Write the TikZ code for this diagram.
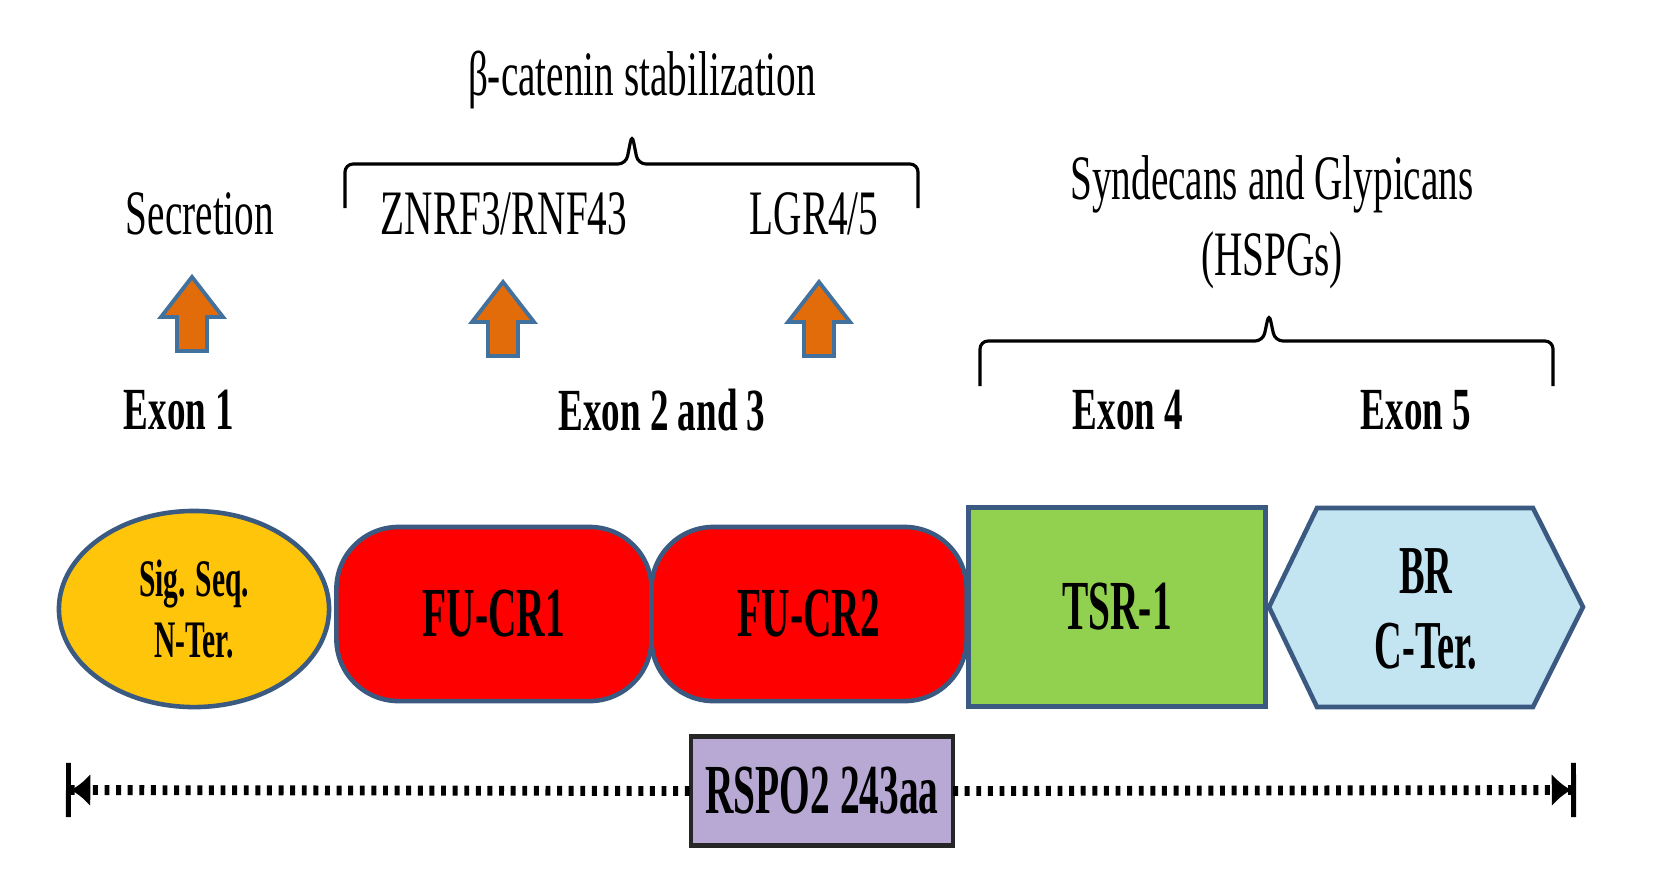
\documentclass[tikz,border=0pt]{standalone}
\usepackage{fontspec}
\setmainfont{Liberation Serif}
\newfontfamily\lblfont[FakeStretch=0.62]{Liberation Serif}
\newfontfamily\boxfont[FakeStretch=0.56]{Liberation Serif}
\usetikzlibrary{arrows.meta,shapes.geometric}
\definecolor{sigyellow}{HTML}{FFC50A}
\definecolor{fured}{HTML}{FF0000}
\definecolor{tsrgreen}{HTML}{92D050}
\definecolor{brblue}{HTML}{C3E5F1}
\definecolor{rspopurple}{HTML}{B8A9D4}
\definecolor{edgeblue}{HTML}{3A5A82}
\definecolor{arroworange}{HTML}{E36C0A}
\definecolor{arrowedge}{HTML}{41719C}
\tikzset{
  domainbox/.style={draw=edgeblue,line width=1.3pt,align=center,
    font=\boxfont\bfseries\fontsize{20}{22}\selectfont},
  toplabel/.style={align=center,font=\lblfont\fontsize{18}{21.6}\selectfont},
  exonlabel/.style={font=\lblfont\bfseries\fontsize{17}{20}\selectfont},
  bracket/.style={draw=black,line width=0.9pt,rounded corners=0.08cm},
  uparrow/.style={draw=arrowedge,fill=arroworange,line width=1.1pt,line join=miter},
  dotline/.style={line width=2.8pt,dash pattern=on 1.4pt off 1.9pt}
}
\begin{document}
\begin{tikzpicture}[x=0.01cm,y=-0.01cm,inner sep=0pt,outer sep=0pt,
sigseq/.style={domainbox,ellipse,fill=sigyellow,minimum width=2.70cm,minimum height=1.96cm,
  font=\boxfont\bfseries\fontsize{15}{17.5}\selectfont},
fucr/.style={domainbox,rectangle,rounded corners=0.62cm,fill=fured,minimum width=3.15cm,minimum height=1.74cm},
tsrbox/.style={domainbox,rectangle,fill=tsrgreen,minimum width=2.97cm,minimum height=1.99cm},
hexbox/.style={draw=edgeblue,line width=1.3pt,fill=brblue,line join=miter},
rspobox/.style={domainbox,draw=black!85,rectangle,fill=rspopurple,minimum width=2.62cm,minimum height=1.09cm}]
\fill[white] (0,0) rectangle (1679,893);
\useasboundingbox (0,0) rectangle (1679,893);
% domains
\draw (194,609) node[sigseq] (sig) {Sig. Seq.\\N-Ter.};
\draw (494,614) node[fucr] (cr1) {FU-CR1};
\draw (809,614) node[fucr] (cr2) {FU-CR2};
\draw (1117,607) node[tsrbox] (tsr) {TSR-1};
\draw[hexbox] (1269,607) -- (1317,508) -- (1533,508) -- (1583,607) -- (1533,707) -- (1317,707) -- cycle;
\draw (1426,609) node[domainbox,draw=none,font=\boxfont\bfseries\fontsize{19.5}{21.5}\selectfont] (br) {BR\\C-Ter.};
\draw (822,791) node[rspobox] (rspo) {RSPO2 243aa};
% length bar
\coordinate (lend) at (66,790);
\coordinate (rend) at (1576,790);
\draw[dotline,{Bar[width=15.4pt,line width=1.4pt]Latex[length=5.5pt,width=9.5pt]}-] (lend) -- (rspo.west);
\draw[dotline,-{Latex[length=5.5pt,width=9.5pt]Bar[width=15.4pt,line width=1.4pt]}] (rspo.east) -- (rend);
% exons
\draw (179,410) node[exonlabel] (ex1) {Exon 1};
\draw (662,410) node[exonlabel] (ex23) {Exon 2 and 3};
\draw (1128,410) node[exonlabel] (ex4) {Exon 4};
\draw (1416,410) node[exonlabel] (ex5) {Exon 5};
% arrows
\foreach \x/\y in {192/277,503/282,819/282}
  \draw[uparrow] (\x,\y) -- ++(31,40) -- ++(-16,0) -- ++(0,34) -- ++(-30,0) -- ++(0,-34) -- ++(-16,0) -- cycle;
% partners
\draw (200,214) node[toplabel] (secr) {Secretion};
\draw (504,214) node[toplabel] (znrf) {ZNRF3/RNF43};
\draw (814,214) node[toplabel] (lgr) {LGR4/5};
\draw (642,80) node[toplabel] (beta) {β-catenin stabilization};
\draw (1272,222) node[toplabel] (hspg) {Syndecans and Glypicans\\(HSPGs)};
% braces
\draw[bracket] (345,208) -- (345,164) -- (626,164) -- (632,134) -- (638,164) -- (918,164) -- (918,208);
\draw[bracket] (980,386) -- (980,341) -- (1263,341) -- (1269,313) -- (1275,341) -- (1553,341) -- (1553,386);
\end{tikzpicture}
\end{document}
